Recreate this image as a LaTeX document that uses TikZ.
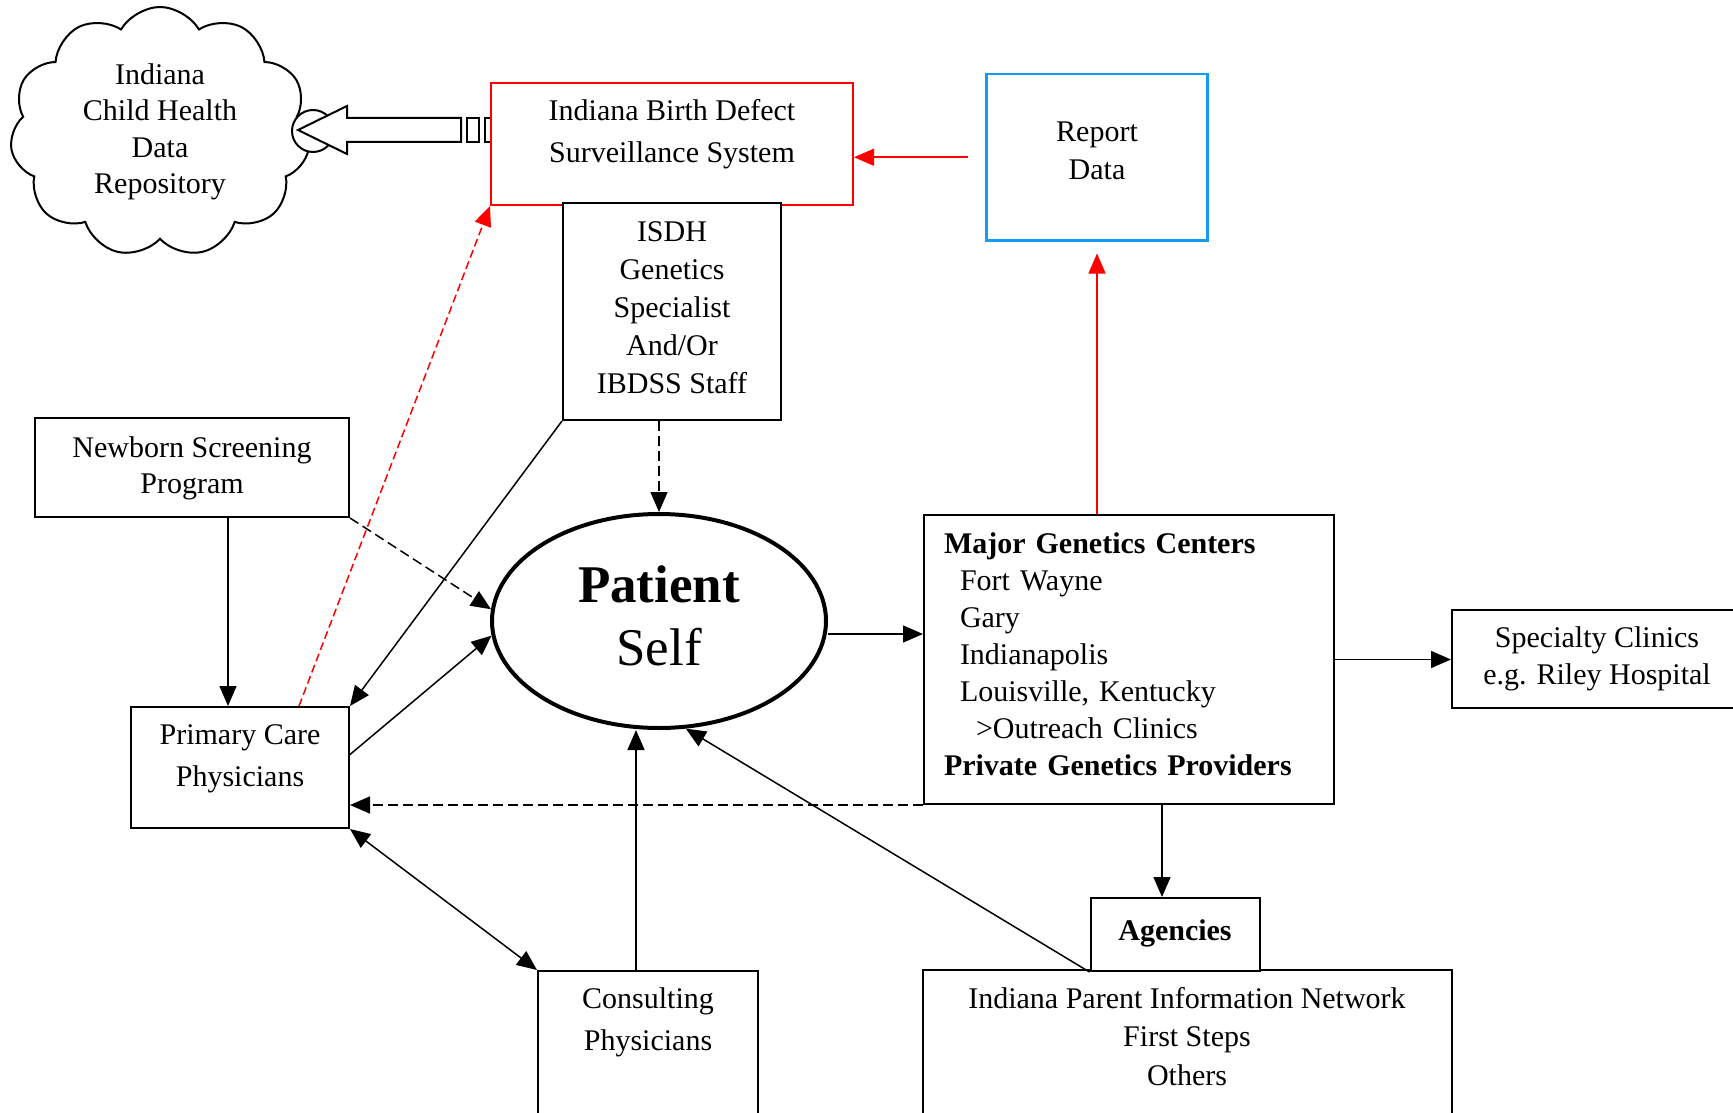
\documentclass[tikz,border=0pt]{standalone}
\usepackage{fontspec}
\setmainfont{Liberation Serif}
\usepackage{tikz}
\usetikzlibrary{
  arrows.meta,
  calc,
  positioning,
  shapes.geometric,
  shapes.symbols,
}
\tikzstyle{box} = [
  rectangle,
  draw,
  line width=2pt,
  fill=white,
  inner ysep=0pt,
  align=center,
]
\tikzstyle{arrow} = [
  ->,
  >={Triangle[length=20pt,width=17pt]},
  line width=1.5pt,
]
\tikzstyle{dasharrow} = [arrow, dash pattern=on 10pt off 5pt]
\tikzstyle{redarrow} = [arrow, color=ibdssred]
\definecolor{ibdssred}{RGB}{255, 0, 0}
\definecolor{reportblue}{RGB}{20, 155, 245}

\begin{document}
\begin{tikzpicture}[x=1pt,y=-1pt,font=\fontsize{30}{37}\selectfont]
			\useasboundingbox (0,0) rectangle (1733,1113);
			\clip (0,0) rectangle (1733,1113);

			% data repository and the arrow feeding it
			\node[cloud,draw,cloud puffs=11,cloud puff arc=120,aspect=1.2,minimum width=300pt,minimum height=250pt,inner sep=0pt,line width=2pt,align=center,font=\fontsize{30}{36.5}\selectfont] (repo) at (160,132) {Indiana\\Child Health\\Data\\Repository};
			\draw[line width=2pt,fill=white] (313,131) circle (21pt);
			\draw[line width=2pt,fill=white] (298,130) -- (347,106) -- (347,118) -- (461,118) -- (461,142) -- (347,142) -- (347,154) -- cycle;
			\draw[line width=2pt] (467,118) rectangle (479,142);
			\draw[line width=2pt] (485,118) rectangle (491,142);

			\node[box,draw=ibdssred,anchor=north,minimum width=362pt,text height=80pt,text depth=42pt,font=\fontsize{30}{42}\selectfont] (ibdss) at (672,82) {Indiana Birth Defect\\Surveillance System};
			\node[box,draw=reportblue,line width=2.5pt,anchor=north,minimum width=221pt,text height=105pt,text depth=61pt,font=\fontsize{30}{38}\selectfont] (report) at (1097,73) {Report\\Data};
			\node[box,anchor=north,minimum width=218pt,text height=190pt,text depth=27pt,font=\fontsize{30}{38}\selectfont] (isdh) at (672,202) {ISDH\\Genetics\\Specialist\\And/Or\\IBDSS Staff};

			\node[box,anchor=north,minimum width=314pt,text height=75pt,text depth=24pt,font=\fontsize{30}{36}\selectfont] (newborn) at (192,417) {Newborn Screening\\Program};
			\node[box,anchor=north,minimum width=218pt,text height=79pt,text depth=42pt,font=\fontsize{30}{42}\selectfont] (primary) at (240,706) {Primary Care\\Physicians};
			\node[box,anchor=north,minimum width=220pt,text height=79pt,text depth=84pt,font=\fontsize{30}{42}\selectfont] (consult) at (648,970) {Consulting\\Physicians};

			\node[ellipse,draw,fill=white,line width=4pt,minimum width=334pt,minimum height=214pt,inner sep=0pt,align=center,text height=110pt,text depth=22pt,font=\fontsize{53}{63}\selectfont] (patient) at (659,621) {\textbf{Patient}\\Self};

			\node[box,anchor=north west,align=left,text width=370pt,inner xsep=20pt,text height=38pt,text depth=251pt] (major) at (923,514) {\textbf{Major Genetics Centers}\\
				\hspace*{16pt}Fort Wayne\\
				\hspace*{16pt}Gary\\
				\hspace*{16pt}Indianapolis\\
				\hspace*{16pt}Louisville, Kentucky\\
				\hspace*{32pt}>Outreach Clinics\\
				\textbf{Private Genetics Providers}};
			\node[box,anchor=north west,minimum width=290pt,text height=74pt,text depth=24pt,font=\fontsize{30}{37}\selectfont] (specialty) at (1451,609) {Specialty Clinics\\e.g. Riley Hospital};

			\node[box,anchor=north,minimum width=529pt,text height=115pt,text depth=83pt,font=\fontsize{30}{38.5}\selectfont] (ipin) at (1187,969) {Indiana Parent Information Network\\First Steps\\Others};
			\node[box,anchor=north,minimum width=169pt,text height=42pt,text depth=31pt] (agencies) at (1175,897) {\textbf{Agencies}};

			% reporting (red)
			\draw[redarrow,shorten <=17pt] (report.west) -- (report.west -| ibdss.east);
			\draw[redarrow,shorten >=12pt] (major.north -| report.south) -- (report.south);
			\draw[redarrow,dash pattern=on 8pt off 4pt] ([xshift=59pt]primary.north) -- (ibdss.south west);

			\draw[arrow] (isdh.south west) -- (primary.north east);
			\draw[dasharrow] (isdh.south -| patient.north) -- (patient.north);
			\draw[arrow] ([xshift=-12pt]primary.north |- newborn.south) -- ([xshift=-12pt]primary.north);
			\draw[dasharrow] (newborn.south east) -- (patient.176);
			\draw[arrow] ([yshift=13pt]primary.east) -- (patient.185);
			\draw[arrow,<->] (primary.south east) -- (consult.north west);
			\coordinate (cp) at ([xshift=-12pt]consult.north);
			\draw[arrow] (cp) -- (cp |- patient.south);
			\draw[arrow] (agencies.south west) -- (patient.284);

			\draw[arrow] ([yshift=-13pt]patient.east) -- ([yshift=-13pt]patient.east -| major.west);
			\draw[arrow] (major.east) -- (major.east -| specialty.west);
			\draw[dasharrow] (major.south west) -- (major.south west -| primary.east);
			\draw[arrow] ([xshift=-13pt]agencies.north |- major.south) -- ([xshift=-13pt]agencies.north);
		\end{tikzpicture}
\end{document}
